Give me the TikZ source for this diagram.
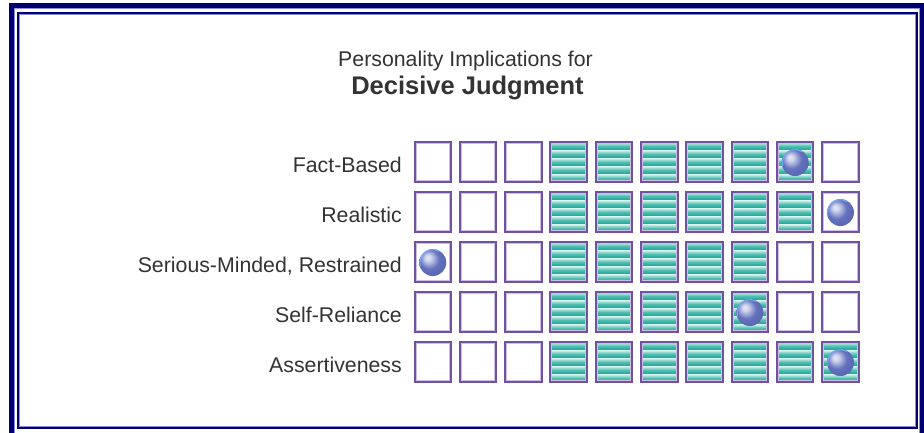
\documentclass[tikz,border=0pt]{standalone}
\usepackage{fontspec}
\setmainfont{Liberation Sans}
\definecolor{navy}{RGB}{0,0,112}
\definecolor{framelav}{RGB}{140,140,215}
\definecolor{boxpurple}{RGB}{112,82,160}
\definecolor{boxlav}{RGB}{205,190,228}
\definecolor{tealdark}{RGB}{22,166,150}
\definecolor{teallite}{RGB}{220,248,243}
\definecolor{txt}{RGB}{51,51,51}
\definecolor{ballhl}{RGB}{232,234,248}
\definecolor{ballbody}{RGB}{100,114,190}
\definecolor{balldark}{RGB}{42,52,120}
\definecolor{rimblue}{RGB}{120,170,240}
\pgfdeclareradialshading{marbleshade}{\pgfpoint{-10bp}{10bp}}{%
  color(0bp)=(ballhl); color(6bp)=(ballhl!80!ballbody); color(18bp)=(ballbody);
  color(30bp)=(ballbody!80!balldark); color(42bp)=(balldark); color(50bp)=(balldark)}
\begin{document}
\begin{tikzpicture}[x=1pt,y=1pt,
  cell/.style={draw=boxpurple, line width=2pt, minimum width=36.5pt, minimum height=40pt, inner sep=0pt, outer sep=0pt},
  lbl/.style={anchor=base east, inner sep=0pt, text=txt, font=\fontsize{21.3}{25}\selectfont},
  ttl/.style={anchor=base, inner sep=0pt, text=txt},
  marble/.style={circle, minimum size=27pt, inner sep=0pt, shade, shading=marbleshade},
  rim/.style={draw=rimblue, line width=1.1pt, line cap=round}]
\useasboundingbox (0,0) rectangle (924,-432);
\clip (0,0) rectangle (924,-432);
\fill[white] (0,0) rectangle (924,-432);
% frame
\draw[navy, line width=4.5pt] (11.5,-5.3) rectangle (921.6,-440);
\draw[framelav, line width=1pt] (14.5,-8) rectangle (919.2,-440);
\draw[navy, line width=2pt] (17.7,-12.8) rectangle (917,-427.6);
\draw[framelav, line width=1pt] (19.2,-14.3) rectangle (915.5,-426.1);
% title
\node[ttl, font=\fontsize{21.3}{25}\selectfont] (t1) at (465.5,-66) {Personality Implications for};
\node[ttl, font=\fontsize{25.5}{30}\selectfont\bfseries] (t2) at (467.5,-94) {Decisive Judgment};
% rows
\foreach \r/\last/\ball/\lab in {1/9/9/Fact-Based, 2/9/10/Realistic, 3/8/1/{Serious-Minded, Restrained}, 4/8/8/Self-Reliance, 5/10/10/Assertiveness}{
  \pgfmathsetmacro\cy{-(162+50*(\r-1))}
  \node[lbl] (l\r) at (402,\cy-10.7) {\lab};
  \foreach \c in {1,...,10}{
    \pgfmathsetmacro\cx{432.75+45.3*(\c-1)}
    \ifnum\c>3 \ifnum\c>\last\else
      \foreach \k in {0,...,4}{
        \shade[top color=teallite, bottom color=tealdark, middle color=tealdark!70!teallite]
          (\cx-18.25,\cy+20-8*\k) rectangle (\cx+18.25,\cy+12-8*\k);
      }
    \fi\fi
    \node[cell] (c\r-\c) at (\cx,\cy) {};
    \draw[boxlav, line width=1pt] ([shift={(1.5,1.5)}]c\r-\c.south west) rectangle ([shift={(-1.5,-1.5)}]c\r-\c.north east);
    \ifnum\c=\ball
      \node[marble] (b\r) at (\cx,\cy-0.5) {};
      \draw[rim] ([shift={(195:12.9)}]b\r.center) arc (195:60:12.9);
    \fi
  }
}
\end{tikzpicture}
\end{document}
